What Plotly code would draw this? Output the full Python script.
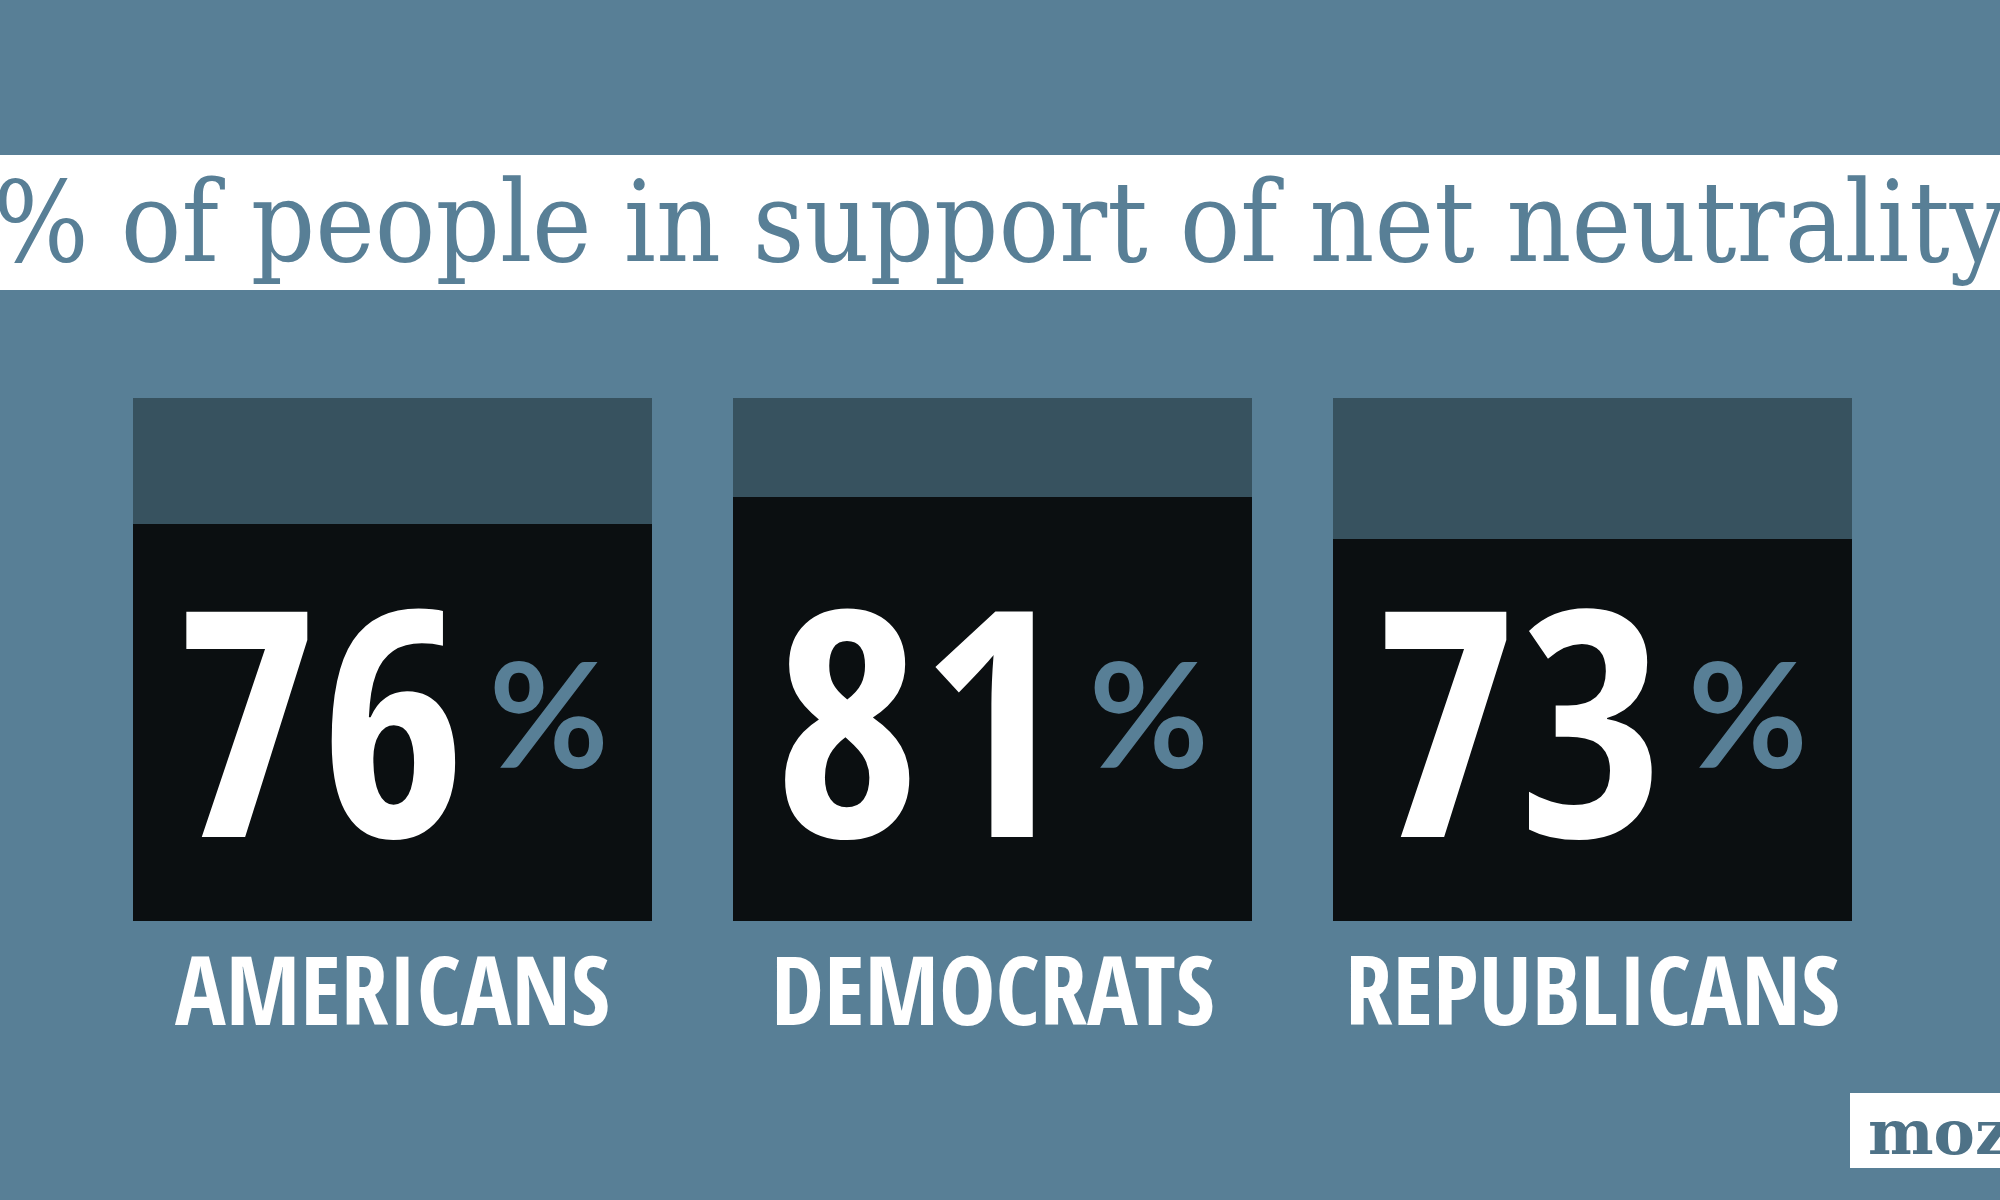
import plotly.graph_objects as go

# ---- data ----
categories = ["AMERICANS", "DEMOCRATS", "REPUBLICANS"]
support_pct = [76, 81, 73]
full_scale = [100, 100, 100]
title_text = "% of people in support of net neutrality"
logo_text = "moz"

# ---- styles ----
BG = "#587f96"
TOP = "#37525f"
FILL = "#0b0f11"
WHITE = "#ffffff"
COND = "'Open Sans Condensed', 'Roboto Condensed', 'DejaVu Sans Condensed', sans-serif"
SERIF = "'DejaVu Serif Condensed', 'DejaVu Serif', serif"

fig = go.Figure()
fig.add_trace(go.Bar(x=categories, y=full_scale, width=0.866,
                     marker=dict(color=TOP, line=dict(width=0)),
                     hoverinfo="skip", showlegend=False))
fig.add_trace(go.Bar(x=categories, y=support_pct, width=0.866,
                     marker=dict(color=FILL, line=dict(width=0)),
                     showlegend=False))

# banner
fig.add_shape(type="rect", xref="paper", yref="paper", x0=0, x1=1,
              y0=1 - 290 / 1200, y1=1 - 155 / 1200,
              fillcolor=WHITE, line=dict(width=0), layer="below")
fig.add_annotation(xref="paper", yref="paper", x=0.5, y=1 - 222 / 1200,
                   text=title_text, showarrow=False, xanchor="center", yanchor="middle",
                   font=dict(family=SERIF, size=112, color=BG))

# numbers, percent signs and labels
for cat, v in zip(categories, support_pct):
    fig.add_annotation(x=cat, y=39.5, text=str(v), showarrow=False,
                       xanchor="right", yanchor="middle", xshift=76,
                       font=dict(family=COND, size=316, color=WHITE, weight="bold"))
    fig.add_annotation(x=cat, y=40.0, text="%", showarrow=False,
                       xanchor="left", yanchor="middle", xshift=94,
                       font=dict(family="Lato, 'Open Sans', sans-serif", size=146,
                                 color=BG, weight="bold"))
    fig.add_annotation(x=cat, y=-12.8, text=cat, showarrow=False,
                       xanchor="center", yanchor="middle",
                       font=dict(family=COND, size=95, color=WHITE, weight="bold"))

# logo
fig.add_shape(type="rect", xref="paper", yref="paper", x0=1850 / 2000, x1=1,
              y0=1 - 1168 / 1200, y1=1 - 1093 / 1200,
              fillcolor=WHITE, line=dict(width=0), layer="below")
fig.add_annotation(xref="paper", yref="paper", x=1866 / 2000, y=1 - 1132 / 1200,
                   text=logo_text, showarrow=False, xanchor="left", yanchor="middle",
                   font=dict(family="'DejaVu Serif'", size=62, color="#4e7287", weight="bold"))

fig.update_layout(
    width=2000, height=1200,
    margin=dict(l=0, r=0, t=0, b=0),
    paper_bgcolor=BG, plot_bgcolor=BG,
    barmode="overlay", bargap=0,
    xaxis=dict(visible=False, range=[-0.6542, 2.6792], fixedrange=True),
    yaxis=dict(visible=False, range=[-53.35, 176.1], fixedrange=True),
)

fig.write_html("out.html", config={"displayModeBar": False},
               post_script="document.body.style.margin='0';")
